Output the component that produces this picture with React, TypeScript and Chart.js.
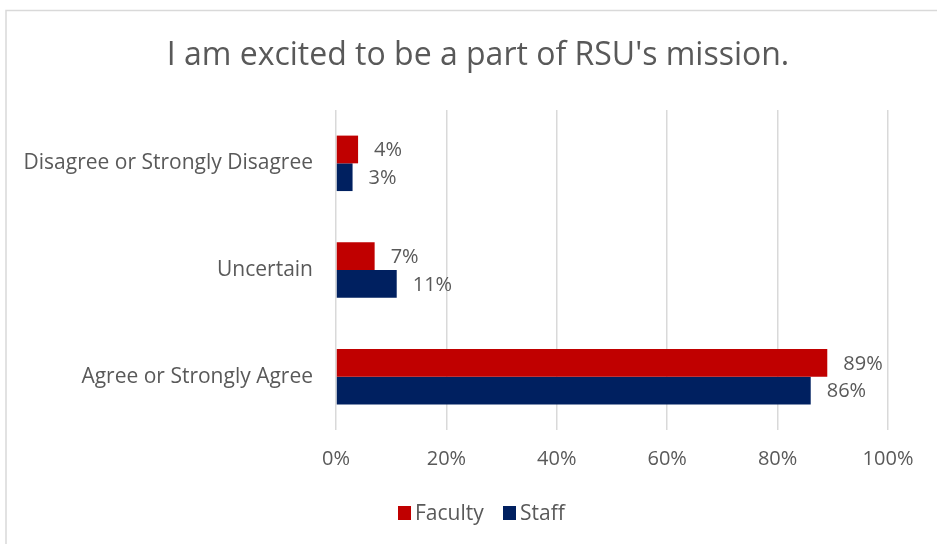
import React, { useEffect, useRef } from "react";
import { Chart, registerables } from "chart.js";

Chart.register(...registerables);

const categories = ["Disagree or Strongly Disagree", "Uncertain", "Agree or Strongly Agree"];
const facultyValues = [4, 7, 89];
const staffValues = [3, 11, 86];
const seriesNames = ["Faculty", "Staff"];
const seriesColors = ["#C00000", "#002060"];
const titleText = "I am excited to be a part of RSU's mission.";

const FONT = "'Open Sans', sans-serif";
const TEXT = "#595959";

const decorPlugin = {
  id: "decor",
  beforeDraw(chart: any) {
    const ctx = chart.ctx;
    ctx.save();
    ctx.fillStyle = "#fff";
    ctx.fillRect(0, 0, chart.width, chart.height);
    ctx.strokeStyle = "#D9D9D9";
    ctx.lineWidth = 1.5;
    ctx.strokeRect(6, 10.5, chart.width + 10, chart.height + 10);
    ctx.restore();
  },
  afterDraw(chart: any) {
    const ctx = chart.ctx;
    ctx.save();
    // title
    ctx.fillStyle = TEXT;
    ctx.font = `32px ${FONT}`;
    ctx.textAlign = "center";
    ctx.textBaseline = "middle";
    ctx.fillText(titleText, 478, 56);
    // data labels
    ctx.font = `20px ${FONT}`;
    ctx.textAlign = "left";
    chart.data.datasets.forEach((ds: any, di: number) => {
      const meta = chart.getDatasetMeta(di);
      meta.data.forEach((el: any, i: number) => {
        ctx.fillText(ds.data[i] + "%", el.x + 16, el.y + 1);
      });
    });
    // legend
    ctx.font = `21px ${FONT}`;
    ctx.textBaseline = "middle";
    const items = [
      { x: 398, label: seriesNames[0], color: seriesColors[0] },
      { x: 503, label: seriesNames[1], color: seriesColors[1] },
    ];
    items.forEach((it) => {
      ctx.fillStyle = it.color;
      ctx.fillRect(it.x, 506, 13, 14);
      ctx.fillStyle = TEXT;
      ctx.fillText(it.label, it.x + 17, 514);
    });
    ctx.restore();
  },
};

export default function App() {
  const ref = useRef<HTMLCanvasElement>(null);
  useEffect(() => {
    document.body.style.margin = "0";
    const chart = new Chart(ref.current!, {
      type: "bar",
      data: {
        labels: categories,
        datasets: [
          { label: seriesNames[0], data: facultyValues, backgroundColor: seriesColors[0], categoryPercentage: 0.52, barPercentage: 1 },
          { label: seriesNames[1], data: staffValues, backgroundColor: seriesColors[1], categoryPercentage: 0.52, barPercentage: 1 },
        ],
      },
      options: {
        indexAxis: "y",
        animation: false,
        responsive: false,
        layout: { padding: { top: 110, right: 49, left: 0, bottom: 0 } },
        plugins: { legend: { display: false }, title: { display: false }, tooltip: { enabled: false } },
        scales: {
          x: {
            min: 0,
            max: 100,
            ticks: { stepSize: 20, callback: (v: any) => v + "%", color: TEXT, font: { family: FONT, size: 20 }, padding: 17 },
            grid: { color: "#D9D9D9", lineWidth: 1.5, drawTicks: false },
            border: { display: false },
            afterFit: (s: any) => { s.height = 114; },
          },
          y: {
            ticks: { color: TEXT, font: { family: FONT, size: 21 }, padding: 23 },
            grid: { display: false, drawTicks: false },
            border: { display: false },
            afterFit: (s: any) => { s.width = 336; },
          },
        },
      },
      plugins: [decorPlugin],
    });
    return () => chart.destroy();
  }, []);
  return <canvas ref={ref} width={937} height={544} style={{ display: "block" }} />;
}
